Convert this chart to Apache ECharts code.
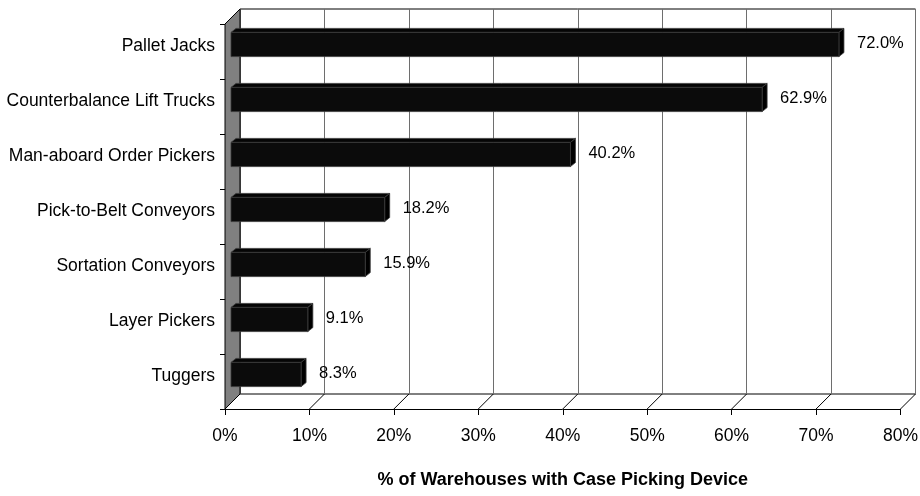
<!DOCTYPE html>
<html>
<head>
<meta charset="utf-8">
<script src="https://cdn.jsdelivr.net/npm/echarts@6/dist/echarts.min.js"></script>
<style>
  html, body { margin: 0; padding: 0; background: #fff; }
  #chart { width: 920px; height: 496px; }
</style>
</head>
<body>
<div id="chart"></div>
<script>
// Case picking devices in use, share of warehouses (%)
const categories = [
  'Pallet Jacks',
  'Counterbalance Lift Trucks',
  'Man-aboard Order Pickers',
  'Pick-to-Belt Conveyors',
  'Sortation Conveyors',
  'Layer Pickers',
  'Tuggers'
];
const shares = [72.0, 62.9, 40.2, 18.2, 15.9, 9.1, 8.3];
const tickValues = [0, 10, 20, 30, 40, 50, 60, 70, 80];
const axisTitle = '% of Warehouses with Case Picking Device';

const FONT = '"Liberation Sans", Arial, sans-serif';
const DEPTH = 15;           // wall/floor depth in px (drawn toward upper right)
const BAR_SHIFT = [6, -7];  // bars sit slightly behind the front plane
const BAR_DEPTH = [5, -4];  // bar thickness in depth

const chart = echarts.init(document.getElementById('chart'), null, { renderer: 'canvas' });

// side wall on the left of the plot
function renderWall(params, api) {
  const cs = params.coordSys;
  return {
    type: 'polygon',
    shape: { points: [
      [cs.x, cs.y],
      [cs.x + DEPTH, cs.y - DEPTH],
      [cs.x + DEPTH, cs.y + cs.height - DEPTH],
      [cs.x, cs.y + cs.height]
    ] },
    style: { fill: '#808080', stroke: '#000', lineWidth: 1 }
  };
}

// floor edges joining front ticks to the back gridlines
function renderFloor(params, api) {
  const cs = params.coordSys;
  const x = api.coord([api.value(0), 0])[0];
  const y = cs.y + cs.height;
  return {
    type: 'line',
    shape: { x1: x, y1: y, x2: x + DEPTH, y2: y - DEPTH },
    style: { stroke: '#000', lineWidth: 1 }
  };
}

// 3D-looking bar with its value label
function renderBar(params, api) {
  const v = api.value(0);
  const i = api.value(1);
  const start = api.coord([0, i]);
  const end = api.coord([v, i]);
  const band = api.size([0, 1])[1];
  const h = band * 0.44;
  const x0 = start[0] + BAR_SHIFT[0];
  const x1 = end[0] + BAR_SHIFT[0];
  const yc = end[1] + BAR_SHIFT[1];
  const top = yc - h / 2, bottom = yc + h / 2;
  const dx = BAR_DEPTH[0], dy = BAR_DEPTH[1];
  const edge = { stroke: '#3a3a3a', lineWidth: 0.8 };
  return {
    type: 'group',
    children: [
      { type: 'polygon', shape: { points: [[x0, top], [x0 + dx, top + dy], [x1 + dx, top + dy], [x1, top]] },
        style: Object.assign({ fill: '#050505' }, edge) },
      { type: 'polygon', shape: { points: [[x1, top], [x1 + dx, top + dy], [x1 + dx, bottom + dy], [x1, bottom]] },
        style: Object.assign({ fill: '#000' }, edge) },
      { type: 'rect', shape: { x: x0, y: top, width: x1 - x0, height: h },
        style: Object.assign({ fill: '#0b0b0b' }, edge) },
      { type: 'text', x: x1 + 18, y: yc - 1,
        style: { text: v.toFixed(1) + '%', fill: '#000', font: '16.5px ' + FONT,
                 textAlign: 'left', textVerticalAlign: 'middle' } }
    ]
  };
}

const option = {
  animation: false,
  backgroundColor: '#fff',
  textStyle: { fontFamily: FONT },
  grid: [
    { left: 225, top: 24, width: 675.5, height: 385, show: false,
      containLabel: false, outerBoundsMode: 'none' },
    { left: 240, top: 9, width: 675.5, height: 385, show: true,
      containLabel: false, outerBoundsMode: 'none',
      backgroundColor: '#fff', borderColor: '#000', borderWidth: 1 }
  ],
  xAxis: [
    { type: 'value', gridIndex: 0, min: 0, max: 80, interval: 10,
      axisLine: { show: true, lineStyle: { color: '#000', width: 1 } },
      axisTick: { show: true, length: 6, lineStyle: { color: '#000' } },
      axisLabel: { formatter: '{value}%', color: '#000', fontSize: 17.5, margin: 18 },
      splitLine: { show: false },
      name: axisTitle, nameLocation: 'middle', nameGap: 62,
      nameTextStyle: { color: '#000', fontSize: 18, fontWeight: 'bold', fontFamily: FONT } },
    { type: 'value', gridIndex: 1, min: 0, max: 80, interval: 10,
      axisLine: { show: false }, axisTick: { show: false }, axisLabel: { show: false },
      splitLine: { show: true, lineStyle: { color: '#6e6e6e', width: 1 } } }
  ],
  yAxis: [
    { type: 'category', gridIndex: 0, data: categories, inverse: true,
      axisLine: { show: true, lineStyle: { color: '#000' } },
      axisTick: { show: true, length: 5, lineStyle: { color: '#000' } },
      axisLabel: { color: '#000', fontSize: 17.5, margin: 10,
                   verticalAlign: 'bottom', lineHeight: 11 },
      splitLine: { show: false } },
    { type: 'category', gridIndex: 1, data: categories, inverse: true, show: false }
  ],
  series: [
    { type: 'custom', name: 'wall', xAxisIndex: 0, yAxisIndex: 0, clip: false, z: 3,
      silent: true, renderItem: renderWall, data: [[0, 0]] },
    { type: 'custom', name: 'floor', xAxisIndex: 0, yAxisIndex: 0, clip: false, z: 3,
      silent: true, renderItem: renderFloor, data: tickValues.map(v => [v]) },
    { type: 'custom', name: 'share', xAxisIndex: 0, yAxisIndex: 0, clip: false, z: 5,
      renderItem: renderBar, encode: { x: 0, y: 1 },
      data: shares.map((v, i) => [v, i]) }
  ]
};

chart.setOption(option);
</script>
</body>
</html>
